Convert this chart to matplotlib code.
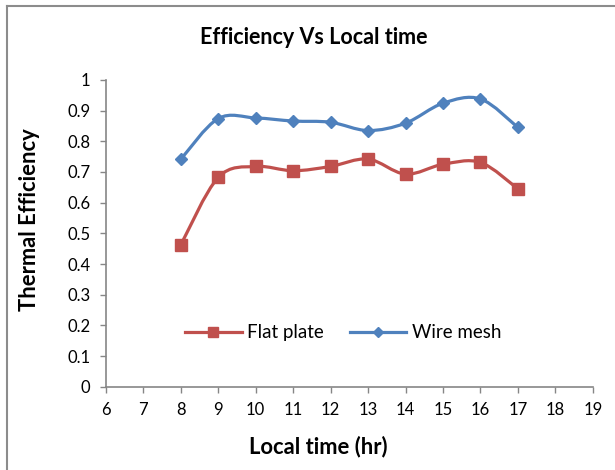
import matplotlib.pyplot as plt
import numpy as np
from matplotlib.path import Path
from matplotlib.patches import PathPatch
from matplotlib.lines import Line2D

plt.rcParams['font.family'] = ['Lato', 'DejaVu Sans']

hours = [8, 9, 10, 11, 12, 13, 14, 15, 16, 17]
flat_plate = [0.462, 0.682, 0.718, 0.704, 0.718, 0.742, 0.693, 0.725, 0.731, 0.645]
wire_mesh = [0.741, 0.874, 0.876, 0.866, 0.862, 0.835, 0.859, 0.924, 0.938, 0.845]

RED = '#C0504D'
BLUE = '#4F81BD'
AXIS_GRAY = '#868686'


def smooth_path(x, y):
    # Catmull-Rom style bezier, similar to a spreadsheet "smoothed line"
    pts = np.column_stack([x, y]).astype(float)
    n = len(pts)
    verts = [pts[0]]
    codes = [Path.MOVETO]
    for i in range(n - 1):
        p0 = pts[max(i - 1, 0)]
        p1 = pts[i]
        p2 = pts[i + 1]
        p3 = pts[min(i + 2, n - 1)]
        c1 = p1 + (p2 - p0) / 6.0
        c2 = p2 - (p3 - p1) / 6.0
        verts += [c1, c2, p2]
        codes += [Path.CURVE4] * 3
    return Path(verts, codes)


fig = plt.figure(figsize=(6.15, 4.7), dpi=100)
ax = fig.add_axes([0.172, 0.177, 0.792, 0.653])

# chart frame (top and left edges only are visible)
fig.add_artist(Line2D([0.011, 0.011], [0, 0.987], transform=fig.transFigure,
                      color='#8C8C8C', lw=1.5))
fig.add_artist(Line2D([0.011, 1.0], [0.987, 0.987], transform=fig.transFigure,
                      color='#8C8C8C', lw=1.5))

for xs, ys, col, mk, ms in [(hours, flat_plate, RED, 's', 8.5),
                            (hours, wire_mesh, BLUE, 'D', 6.5)]:
    ax.add_patch(PathPatch(smooth_path(xs, ys), facecolor='none',
                           edgecolor=col, lw=2.3, zorder=2))
    ax.plot(xs, ys, ls='none', marker=mk, ms=ms, color=col, zorder=3)

ax.set_xlim(6, 19)
ax.set_ylim(0, 1)
ax.set_xticks(range(6, 20))
ax.set_yticks(np.arange(0, 1.01, 0.1))
ax.set_yticklabels(['0'] + ['%.1f' % v for v in np.arange(0.1, 0.95, 0.1)] + ['1'])

for side in ['top', 'right']:
    ax.spines[side].set_visible(False)
for side in ['left', 'bottom']:
    ax.spines[side].set_color(AXIS_GRAY)
    ax.spines[side].set_linewidth(1.2)
ax.tick_params(direction='out', length=4, width=1, color=AXIS_GRAY,
               labelsize=12, pad=7)

fig.text(314 / 615, 1 - 38 / 470, 'Efficiency Vs Local time', fontsize=15.5,
         fontweight='bold', ha='center', va='center')
fig.text(318 / 615, 1 - 447 / 470, 'Local time (hr)', fontsize=15.8,
         fontweight='bold', ha='center', va='center')
fig.text(30 / 615, 1 - 220 / 470, 'Thermal Efficiency', fontsize=15.8,
         fontweight='bold', ha='center', va='center', rotation=90)

handles = [Line2D([], [], color=RED, lw=2.3, marker='s', ms=7),
           Line2D([], [], color=BLUE, lw=2.3, marker='D', ms=5)]
ax.legend(handles, ['Flat plate', 'Wire mesh'], loc='center',
          bbox_to_anchor=(0.488, 0.176), ncol=2, frameon=False, fontsize=13.5,
          handlelength=3.0, handletextpad=0.3, columnspacing=1.4)

fig.savefig('out.png', dpi=100)
